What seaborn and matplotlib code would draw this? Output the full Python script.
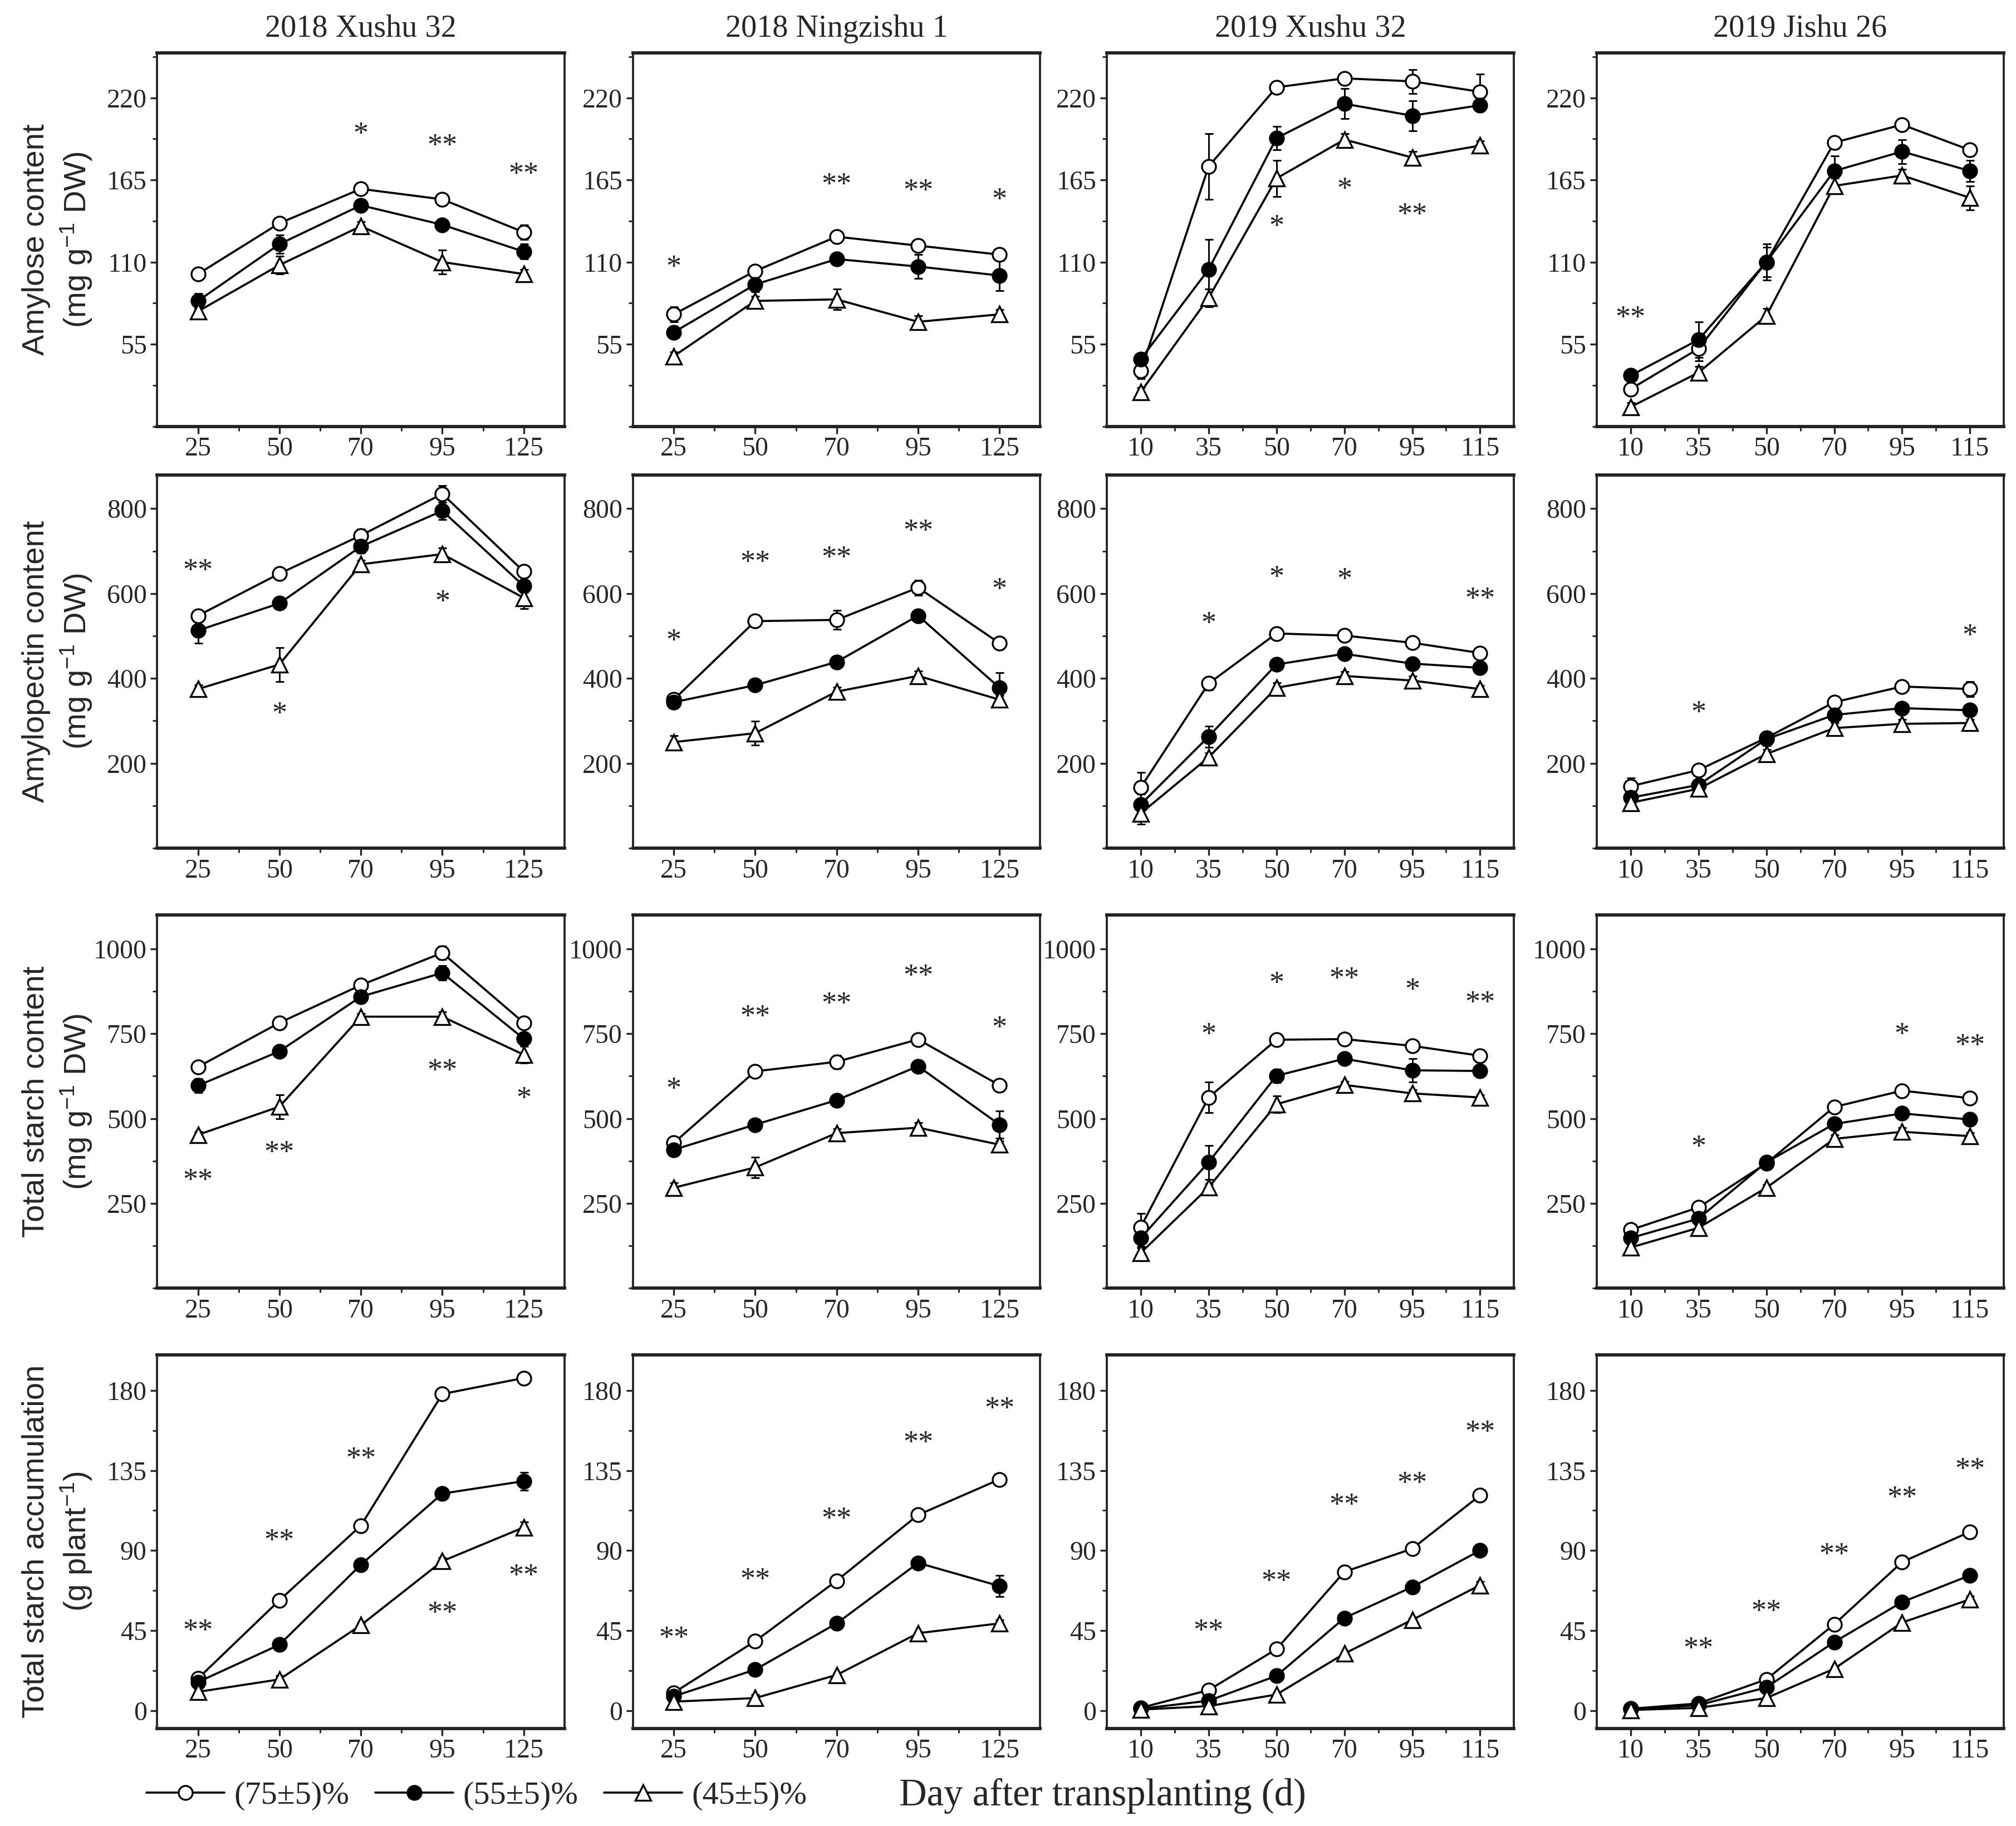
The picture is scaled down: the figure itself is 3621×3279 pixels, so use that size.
import matplotlib
matplotlib.use("Agg")
import matplotlib.pyplot as plt
from matplotlib.ticker import MultipleLocator, FixedLocator
from matplotlib.lines import Line2D
import seaborn as sns

# columns of the figure
panel_titles = ["2018 Xushu 32", "2018 Ningzishu 1", "2019 Xushu 32", "2019 Jishu 26"]
days_2018 = [25, 50, 70, 95, 125]
days_2019 = [10, 35, 50, 70, 95, 115]
panel_days = [days_2018, days_2018, days_2019, days_2019]
treatments = ["(75±5)%", "(55±5)%", "(45±5)%"]

# row 1: amylose content
amylose_75 = [[102, 136, 159, 152, 130],
              [75, 104, 127, 121, 115],
              [37, 174, 227, 233, 231, 224],
              [25, 52, 110, 190, 202, 185]]
amylose_55 = [[84, 122, 148, 135, 117],
              [63, 95, 112, 107, 101],
              [45, 105, 193, 216, 208, 215],
              [34, 58, 110, 171, 184, 171]]
amylose_45 = [[77, 108, 134, 110, 102],
              [47, 84, 85, 70, 75],
              [23, 86, 166, 192, 180, 188],
              [13, 36, 74, 161, 168, 153]]
amylose_75_err = [[2, 3, 3, 3, 5], [5, 3, 3, 4, 4], [5, 22, 2, 3, 8, 12], [3, 8, 12, 4, 4, 4]]
amylose_55_err = [[5, 6, 4, 3, 5], [4, 5, 3, 8, 10], [4, 20, 8, 10, 10, 4], [3, 12, 10, 10, 8, 7]]
amylose_45_err = [[2, 6, 3, 8, 3], [3, 3, 7, 4, 3], [3, 6, 12, 4, 4, 3], [3, 4, 5, 5, 4, 8]]
amylose_sig = [[(70, "*", 195), (95, "**", 187), (125, "**", 168)],
               [(25, "*", 106), (70, "**", 161), (95, "**", 157), (125, "*", 151)],
               [(50, "*", 133), (70, "*", 158), (95, "**", 141)],
               [(10, "**", 72)]]

# row 2: amylopectin content
amylopectin_75 = [[548, 647, 737, 835, 652],
                  [350, 535, 538, 614, 483],
                  [143, 388, 506, 501, 484, 460],
                  [146, 184, 260, 344, 381, 375]]
amylopectin_55 = [[513, 577, 711, 795, 618],
                  [344, 384, 439, 548, 378],
                  [103, 263, 433, 458, 435, 425],
                  [119, 149, 257, 314, 330, 325]]
amylopectin_45 = [[375, 433, 669, 693, 590],
                  [250, 271, 369, 406, 350],
                  [82, 214, 378, 406, 395, 375],
                  [107, 140, 222, 283, 293, 295]]
amylopectin_75_err = [[10, 10, 15, 20, 10], [15, 10, 22, 18, 15], [35, 15, 12, 10, 10, 10], [20, 10, 15, 15, 12, 18]]
amylopectin_55_err = [[30, 10, 15, 20, 15], [15, 10, 10, 10, 35], [25, 25, 12, 12, 12, 10], [12, 8, 15, 12, 12, 12]]
amylopectin_45_err = [[10, 40, 10, 15, 25], [15, 28, 10, 12, 10], [25, 10, 12, 10, 10, 8], [12, 8, 10, 12, 10, 8]]
amylopectin_sig = [[(25, "**", 652), (50, "*", 314), (95, "*", 578)],
                   [(25, "*", 486), (50, "**", 671), (70, "**", 682), (95, "**", 744), (125, "*", 607)],
                   [(35, "*", 527), (50, "*", 635), (70, "*", 630), (115, "**", 584)],
                   [(35, "*", 317), (115, "*", 498)]]

# row 3: total starch content
starch_75 = [[652, 782, 893, 988, 782],
             [428, 639, 667, 733, 598],
             [180, 562, 732, 734, 714, 685],
             [172, 238, 368, 534, 582, 560]]
starch_55 = [[597, 698, 859, 929, 735],
             [408, 482, 554, 654, 482],
             [148, 371, 626, 676, 642, 640],
             [148, 205, 371, 484, 515, 497]]
starch_45 = [[452, 535, 800, 800, 688],
             [296, 356, 457, 473, 423],
             [104, 297, 542, 599, 574, 562],
             [120, 178, 296, 440, 461, 448]]
starch_75_err = [[10, 10, 15, 20, 15], [15, 10, 20, 12, 15], [40, 45, 12, 10, 12, 10], [15, 12, 15, 15, 12, 12]]
starch_55_err = [[20, 12, 15, 22, 15], [15, 10, 10, 10, 40], [30, 50, 20, 15, 35, 12], [12, 10, 15, 15, 12, 12]]
starch_45_err = [[10, 35, 10, 15, 25], [15, 30, 12, 15, 10], [20, 10, 25, 10, 10, 8], [10, 8, 10, 12, 12, 10]]
starch_sig = [[(25, "**", 315), (50, "**", 397), (95, "**", 637), (125, "*", 556)],
              [(25, "*", 584), (50, "**", 796), (70, "**", 835), (95, "**", 916), (125, "*", 763)],
              [(35, "*", 744), (50, "*", 895), (70, "**", 908), (95, "*", 875), (115, "**", 837)],
              [(35, "*", 413), (95, "*", 744), (115, "**", 711)]]

# row 4: total starch accumulation
accum_75 = [[18, 62, 104, 178, 187],
            [10, 39, 73, 110, 130],
            [1.5, 11.5, 34.5, 78, 91, 121],
            [1, 4, 17.5, 48.5, 83.5, 100.5]]
accum_55 = [[16, 37, 82, 122, 129],
            [8, 23, 49, 83, 70],
            [1, 5.5, 19.5, 52, 69.5, 90],
            [0.8, 3, 13, 38.5, 61, 76]]
accum_45 = [[10.5, 17.5, 48, 84, 103],
            [5, 7, 20, 43.5, 49],
            [0.5, 2.5, 9, 32, 51, 70.5],
            [0.3, 1.5, 7, 23.5, 49.5, 62.5]]
accum_75_err = [[2, 2, 2, 3, 3], [2, 2, 2, 2, 3], [1, 2, 2, 2, 2, 2], [1, 1, 2, 2, 2, 2]]
accum_55_err = [[2, 1, 2, 2, 5], [1, 1, 1, 1, 6], [1, 1, 1, 2, 2, 2], [1, 1, 2, 2, 2, 2]]
accum_45_err = [[1, 2, 1, 2, 3], [1, 2, 1, 1, 2], [1, 1, 1, 1, 1, 2], [1, 1, 1, 1, 1, 2]]
accum_sig = [[(25, "**", 44), (50, "**", 95), (70, "**", 141), (95, "**", 54), (125, "**", 75)],
             [(25, "**", 40), (50, "**", 73), (70, "**", 107), (95, "**", 150), (125, "**", 169)],
             [(35, "**", 44), (50, "**", 72), (70, "**", 115), (95, "**", 127), (115, "**", 156)],
             [(35, "**", 34), (50, "**", 55), (70, "**", 87), (95, "**", 119), (115, "**", 135)]]

row_labels = ["Amylose content\n(mg g$^{-1}$ DW)",
              "Amylopectin content\n(mg g$^{-1}$ DW)",
              "Total starch content\n(mg g$^{-1}$ DW)",
              "Total starch accumulation\n(g plant$^{-1}$)"]
row_ticks = [[55, 110, 165, 220], [200, 400, 600, 800], [250, 500, 750, 1000], [0, 45, 90, 135, 180]]
row_ylim = [(0, 250), (0, 880), (0, 1100), (-10, 200)]

rows = [
    (amylose_75, amylose_55, amylose_45, amylose_75_err, amylose_55_err, amylose_45_err, amylose_sig),
    (amylopectin_75, amylopectin_55, amylopectin_45, amylopectin_75_err, amylopectin_55_err, amylopectin_45_err, amylopectin_sig),
    (starch_75, starch_55, starch_45, starch_75_err, starch_55_err, starch_45_err, starch_sig),
    (accum_75, accum_55, accum_45, accum_75_err, accum_55_err, accum_45_err, accum_sig),
]

sns.set_style("ticks")
plt.rcParams['font.family'] = ['Liberation Serif', 'DejaVu Serif']
plt.rcParams['mathtext.fontset'] = 'custom'
plt.rcParams['mathtext.rm'] = 'Liberation Sans'
plt.rcParams['mathtext.it'] = 'Liberation Sans:italic'

# marker style for each treatment: (marker, face colour)
styles = [("o", "white"), ("o", "black"), ("^", "white")]

fig = plt.figure(figsize=(3621 / 300, 3279 / 300), dpi=300)
lefts = [0.078, 0.314, 0.549, 0.792]
tops = [0.029, 0.260, 0.501, 0.742]
w, h = 0.202, 0.2045

for r, (s75, s55, s45, e75, e55, e45, sig) in enumerate(rows):
    for c in range(4):
        ax = fig.add_axes([lefts[c], 1 - tops[r] - h, w, h])
        days = panel_days[c]
        pos = list(range(len(days)))
        for vals, errs, (mk, face) in zip([s75, s55, s45], [e75, e55, e45], styles):
            ax.errorbar(pos, vals[c], yerr=errs[c], fmt='none', ecolor='black',
                        elinewidth=0.7, capsize=1.8, capthick=0.7, zorder=2)
            sns.lineplot(x=pos, y=vals[c], ax=ax, color='black', linewidth=0.9,
                         marker=mk, markersize=6.5 if mk == "^" else 6,
                         markerfacecolor=face, markeredgecolor='black',
                         markeredgewidth=0.8, zorder=3)
        for day, label, yv in sig[c]:
            ax.text(days.index(day), yv, label, ha='center', va='center', fontsize=13)

        ax.set_xlim(-0.5, len(days) - 0.5)
        ax.set_xticks(pos)
        ax.set_xticklabels([str(d) for d in days])
        ax.xaxis.set_minor_locator(FixedLocator([p + 0.5 for p in pos[:-1]]))
        ax.set_ylim(*row_ylim[r])
        ax.set_yticks(row_ticks[r])
        step = row_ticks[r][1] - row_ticks[r][0]
        ax.yaxis.set_minor_locator(MultipleLocator(step / 2))
        ax.tick_params(axis='both', which='major', direction='out', length=3,
                       width=0.8, labelsize=11.5, pad=1.5)
        ax.tick_params(axis='both', which='minor', direction='out', length=2, width=0.7)
        ax.set_xlabel("")
        ax.set_ylabel("")
        for side, sp in ax.spines.items():
            sp.set_visible(True)
            sp.set_color('#222222')
            sp.set_linewidth(1.4 if side in ('top', 'bottom') else 0.9)
        if r == 0:
            ax.set_title(panel_titles[c], fontsize=13.5, pad=7)
        if c == 0:
            ax.set_ylabel(row_labels[r], fontsize=13.5, family='Liberation Sans',
                          linespacing=1.3)
            ax.yaxis.set_label_coords(-0.155, 0.5)

handles = [Line2D([], [], color='black', linewidth=0.9, marker=mk, markersize=6.5 if mk == "^" else 6,
                  markerfacecolor=face, markeredgecolor='black', markeredgewidth=0.8)
           for mk, face in styles]
fig.legend(handles, treatments, loc='center left', bbox_to_anchor=(0.058, 0.0165), ncol=3,
           frameon=False, fontsize=14, handlelength=2.4, handletextpad=0.3, columnspacing=0.8)
fig.text(0.547, 0.0165, "Day after transplanting (d)", ha='center', va='center', fontsize=16.5)

fig.savefig("out.png", dpi=300)
